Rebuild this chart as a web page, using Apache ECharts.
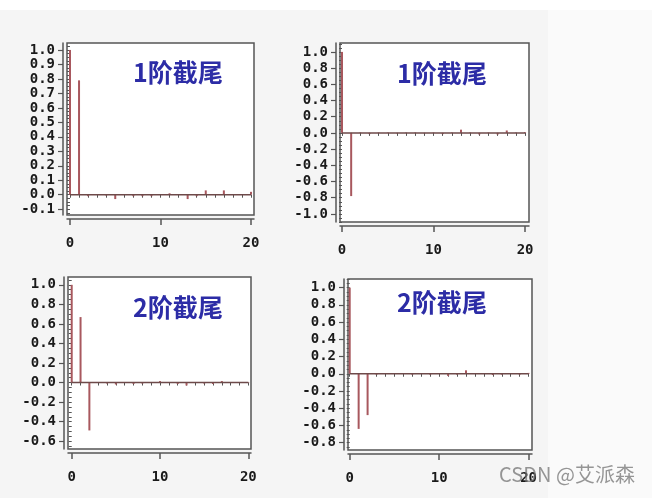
<!DOCTYPE html>
<html>
<head>
<meta charset="utf-8">
<script src="https://cdn.jsdelivr.net/npm/echarts@6/dist/echarts.min.js"></script>
<style>html,body{margin:0;padding:0;background:#f5f5f5;}#chart{width:652px;height:498px;}</style>
</head>
<body>
<div id="chart"></div>
<script>
// ---- data ----
const lags = [0,1,2,3,4,5,6,7,8,9,10,11,12,13,14,15,16,17,18,19,20];
const acfAR1  = [1.0, 0.79, -0.01, 0.005, -0.005, -0.03, 0.005, -0.01, -0.01, -0.01, 0.005, 0.01, 0.005, -0.03, -0.01, 0.03, 0.005, 0.03, 0.005, 0.005, 0.02];
const pacfAR1 = [1.0, -0.78, 0.005, -0.015, 0.005, 0.005, -0.005, 0.005, 0.005, -0.005, 0.005, -0.015, 0.005, 0.04, 0.005, -0.02, 0.005, -0.02, 0.03, 0.005, 0.01];
const acfAR2  = [1.0, 0.67, -0.49, 0.005, -0.01, -0.02, 0.005, -0.015, -0.01, 0.005, 0.015, 0.005, -0.015, -0.03, 0.005, -0.01, -0.015, 0.015, 0.005, 0.005, 0.005];
const pacfAR2 = [1.0, -0.64, -0.48, -0.01, 0.005, 0.005, 0.005, -0.01, 0.005, -0.01, 0.005, -0.025, -0.01, 0.04, 0.005, 0.005, -0.015, -0.01, 0.005, -0.01, 0.01];

const yLabels1 = [-0.1, 0.0, 0.1, 0.2, 0.3, 0.4, 0.5, 0.6, 0.7, 0.8, 0.9, 1.0];
const yLabels2 = [-1.0, -0.8, -0.6, -0.4, -0.2, 0.0, 0.2, 0.4, 0.6, 0.8, 1.0];
const yLabels3 = [-0.6, -0.4, -0.2, 0.0, 0.2, 0.4, 0.6, 0.8, 1.0];
const yLabels4 = [-0.8, -0.6, -0.4, -0.2, 0.0, 0.2, 0.4, 0.6, 0.8, 1.0];
const xLabels = [0, 10, 20];
const titles = ['1阶截尾', '1阶截尾', '2阶截尾', '2阶截尾'];
const watermark = 'CSDN @艾派森';

// ---- layout ----
const panels = [
  {values: acfAR1,  labels: yLabels1, minorStep: 0.025, left: 67,  top: 43,  width: 187, height: 172, xMin: -0.33, xMax: 20.33, yMin: -0.14, yMax: 1.048, tx: 178, ty: 72},
  {values: pacfAR1, labels: yLabels2, minorStep: 0.05,  left: 340, top: 43,  width: 189, height: 179, xMin: -0.22, xMax: 20.43, yMin: -1.10, yMax: 1.11,  tx: 442, ty: 73},
  {values: acfAR2,  labels: yLabels3, minorStep: 0.05,  left: 68,  top: 277, width: 183, height: 172, xMin: -0.42, xMax: 20.3,  yMin: -0.68, yMax: 1.08,  tx: 178, ty: 307},
  {values: pacfAR2, labels: yLabels4, minorStep: 0.05,  left: 348, top: 279, width: 184, height: 171, xMin: -0.19, xMax: 20.38, yMin: -0.885, yMax: 1.10, tx: 442, ty: 302}
];

function minorTicks(lo, hi, step) {
  const out = [];
  const start = Math.ceil(lo / step - 1e-9);
  const end = Math.floor(hi / step + 1e-9);
  for (let k = start; k <= end; k++) out.push(+(k * step).toFixed(4));
  return out;
}

const axisColor = '#555';
const labelFont = {fontFamily: 'DejaVu Sans Mono', fontWeight: 'bold', fontSize: 14, color: '#1a1a1a'};

const grids = [], xAxes = [], yAxes = [], series = [], graphics = [];
graphics.push({type: 'rect', left: 0, top: 0, shape: {width: 652, height: 10}, style: {fill: '#ffffff'}, z: -10});
graphics.push({type: 'rect', left: 548, top: 10, shape: {width: 104, height: 488}, style: {fill: '#fafafa'}, z: -10});

panels.forEach((p, i) => {
  grids.push({left: p.left, top: p.top, width: p.width, height: p.height, show: true,
    backgroundColor: '#ffffff', borderColor: '#555', borderWidth: 1.5});
  const xi = xAxes.length, yi = yAxes.length;
  // main x axis (labels + major ticks)
  xAxes.push({type: 'value', gridIndex: i, min: p.xMin, max: p.xMax, position: 'bottom', offset: 4,
    axisLine: {show: true, onZero: false, lineStyle: {color: axisColor, width: 1.5}},
    axisTick: {show: true, customValues: xLabels, length: 6, lineStyle: {color: axisColor, width: 1.5}},
    axisLabel: Object.assign({customValues: xLabels, margin: 17, formatter: v => String(Math.round(v))}, labelFont),
    splitLine: {show: false}});
  // minor x ticks
  xAxes.push({type: 'value', gridIndex: i, min: p.xMin, max: p.xMax, position: 'bottom', offset: 4,
    axisLine: {show: false},
    axisTick: {show: true, customValues: lags, length: 3, lineStyle: {color: axisColor, width: 1}},
    axisLabel: {show: false}, splitLine: {show: false}});
  // main y axis
  yAxes.push({type: 'value', gridIndex: i, min: p.yMin, max: p.yMax, position: 'left', offset: 4,
    axisLine: {show: true, onZero: false, lineStyle: {color: axisColor, width: 1.5}},
    axisTick: {show: true, customValues: p.labels, length: 5, lineStyle: {color: axisColor, width: 1.2}},
    axisLabel: Object.assign({customValues: p.labels, margin: 8, formatter: v => v.toFixed(1)}, labelFont),
    splitLine: {show: false}});
  // minor y ticks
  yAxes.push({type: 'value', gridIndex: i, min: p.yMin, max: p.yMax, position: 'left', offset: 4,
    axisLine: {show: false},
    axisTick: {show: true, customValues: minorTicks(p.yMin, p.yMax, p.minorStep), length: 3, lineStyle: {color: axisColor, width: 1}},
    axisLabel: {show: false}, splitLine: {show: false}});

  series.push({type: 'line', xAxisIndex: xi, yAxisIndex: yi, symbol: 'none', silent: true,
    data: lags.map(l => [l, 0]), lineStyle: {color: '#6e4a4a', width: 1.5}, z: 3});
  series.push({type: 'bar', xAxisIndex: xi, yAxisIndex: yi, barWidth: 2, silent: true,
    data: lags.map((l, k) => [l, p.values[k]]), itemStyle: {color: '#a8585e'}, z: 2});

  graphics.push({type: 'text', x: p.tx, y: p.ty, z: 10,
    style: {text: titles[i], fill: '#2c2ca6', font: 'bold 25px "Noto Sans CJK SC"', textAlign: 'center', textVerticalAlign: 'middle'}});
});

graphics.push({type: 'text', x: 567, y: 474, z: 20,
  style: {text: watermark, fill: 'rgba(115,115,115,0.75)', font: '20px "Noto Sans CJK SC"', textAlign: 'center', textVerticalAlign: 'middle'}});

const chart = echarts.init(document.getElementById('chart'), null, {renderer: 'canvas'});
chart.setOption({
  backgroundColor: '#f5f5f5',
  animation: false,
  grid: grids,
  xAxis: xAxes,
  yAxis: yAxes,
  series: series,
  graphic: graphics
});
</script>
</body>
</html>
